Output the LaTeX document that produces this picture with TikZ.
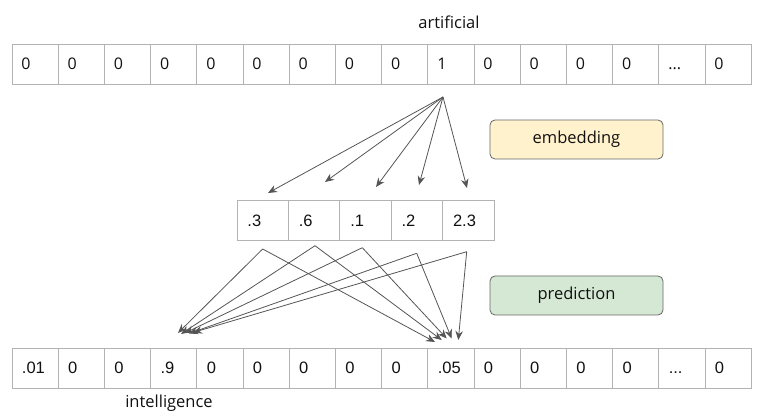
\documentclass[tikz,border=0pt]{standalone}
\usepackage{fontspec}
\setmainfont{Liberation Sans}
\newfontfamily\labelfont{Open Sans}
\usetikzlibrary{arrows.meta}
\definecolor{cellgrey}{HTML}{B3B3B3}
\definecolor{arrowgrey}{HTML}{555555}
\definecolor{embfill}{HTML}{FFF2CC}
\definecolor{predfill}{HTML}{D5E8D4}
\definecolor{boxline}{HTML}{666666}
\definecolor{txt}{HTML}{111111}
\begin{document}
\begin{tikzpicture}[x=1pt,y=-1pt,
  cell/.style={draw=cellgrey,line width=0.9pt,minimum width=46.2pt,minimum height=40pt,inner sep=0pt,text=txt,font=\fontsize{16.5}{17}\selectfont},
  topcell/.style={cell,font=\labelfont\fontsize{16}{17}\selectfont},
  midcell/.style={cell,minimum width=51.4pt},
  conn/.style={draw=arrowgrey,line width=0.8pt,-{Stealth[length=9pt,width=7.5pt]}},
  tag/.style={draw=boxline,line width=0.8pt,rounded corners=5pt,minimum width=173pt,minimum height=39pt,text=txt,font=\labelfont\fontsize{16.5}{17}\selectfont},
  word/.style={text=txt,font=\labelfont\fontsize{16.5}{17}\selectfont}]
\useasboundingbox (0,0) rectangle (769,419);
% top row
\foreach \v [count=\i] in {0,0,0,0,0,0,0,0,0,1,0,0,0,0,x,0}{
  \node[topcell] (t\i) at ({12+46.2*(\i-1)+23.1},64) {};
  \node[anchor=west,topcell,draw=none,minimum width=0pt] at ({12+46.2*(\i-1)+9},64) {\vphantom{0}\ifnum\i=15 ...\else\v\fi};
}
% bottom row
\foreach \v [count=\i] in {.01,0,0,.9,0,0,0,0,0,.05,0,0,0,0,x,0}{
  \node[cell] (b\i) at ({12+46.2*(\i-1)+23.1},368) {};
  \node[anchor=west,cell,draw=none,minimum width=0pt] at ({12+46.2*(\i-1)+9.5},368) {\vphantom{0}\ifnum\i=15 ...\else\v\fi};
}
% middle row
\foreach \v [count=\i] in {.3,.6,.1,.2,2.3}{
  \node[midcell] (m\i) at ({237+51.4*(\i-1)+25.7},220.5) {};
  \node[anchor=west,cell,draw=none,minimum width=0pt] at ({237+51.4*(\i-1)+10},220.5) {\v};
}
% labels
\node[word] (art) at (449,22) {artificial};
\node[word] (int) at (169,403) {intelligence};
\node[tag,fill=embfill] (emb) at (576.5,139.5) {embedding};
\node[tag,fill=predfill] (pred) at (576.5,295.5) {prediction};
% embedding arrows
\coordinate (src) at (443,97);
\coordinate (e1) at (268,193);
\coordinate (e2) at (325,182);
\coordinate (e3) at (376,187);
\coordinate (e4) at (419,185);
\coordinate (e5) at (467,188);
\foreach \k in {1,...,5} \draw[conn] (src) -- (e\k);
% prediction arrows
\coordinate (s1) at (262.7,249);
\coordinate (s2) at (315,245.7);
\coordinate (s3) at (362.3,247.7);
\coordinate (s4) at (416.7,253.3);
\coordinate (s5) at (466.7,251.7);
\coordinate (l1) at (178,333);
\coordinate (l2) at (181,334);
\coordinate (l3) at (185,333);
\coordinate (l4) at (189,333.5);
\coordinate (l5) at (193,332.5);
\coordinate (r1) at (435,342);
\coordinate (r2) at (441.7,340);
\coordinate (r3) at (446.7,338.5);
\coordinate (r4) at (451.7,338.5);
\coordinate (r5) at (458.3,340);
\foreach \k in {1,...,5}{
  \draw[conn] (s\k) -- (l\k);
  \draw[conn] (s\k) -- (r\k);
}
\end{tikzpicture}
\end{document}
